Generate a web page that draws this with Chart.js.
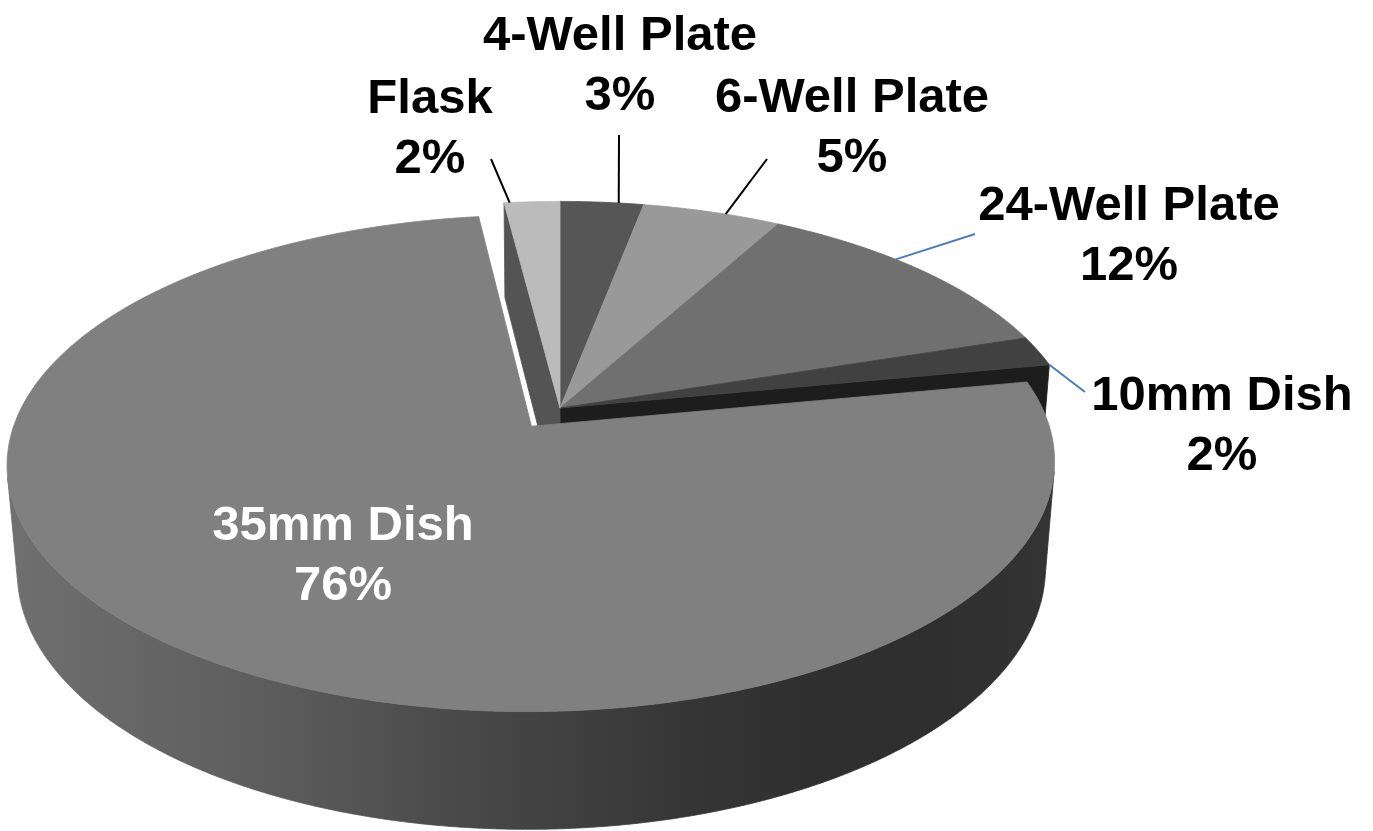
<!DOCTYPE html>
<html>
<head>
<meta charset="utf-8">
<title>Culture vessel usage</title>
<script src="https://cdn.jsdelivr.net/npm/chart.js@4/dist/chart.umd.min.js"></script>
<style>
  html, body { margin: 0; padding: 0; background: #ffffff; }
  #wrap { position: relative; width: 1373px; height: 831px; }
</style>
</head>
<body>
<div id="wrap"><canvas id="pie"></canvas></div>
<script>
// ---- data ----
const categories  = ['4-Well Plate', '6-Well Plate', '24-Well Plate', '10mm Dish', '35mm Dish', 'Flask'];
const shares      = [3, 5, 12, 2, 76, 2];
const sliceColors = ['#565656', '#999999', '#707070', '#414141', '#808080', '#bbbbbb'];
const explodePx   = [0, 0, 0, 0, 48, 0];

// ---- label placement (text centre / first baseline, leader end, anchor along slice rim) ----
const labelPlacement = [
  { x: 620,  y: 50,  color: '#000000', lineTo: [619, 135],  anchor: 0.7,  lineColor: '#000000' },
  { x: 852,  y: 112, color: '#000000', lineTo: [767, 159],  anchor: 0.6,  lineColor: '#000000' },
  { x: 1129, y: 220, color: '#000000', lineTo: [975, 234],  anchor: 0.405, lineColor: '#4a7ebb' },
  { x: 1222, y: 410, color: '#000000', lineTo: [1085, 392], anchor: 1.0,  lineColor: '#4a7ebb' },
  { x: 343,  y: 540, color: '#ffffff', lineTo: null },
  { x: 430,  y: 113, color: '#000000', lineTo: [491, 159],  anchor: 0.1,  lineColor: '#000000' }
];
const labelFont = 'bold 49px "Liberation Sans", Arial, sans-serif';
const labelLineGap = 60;

// ---- 3-D view (units of pie radius) ----
const view = { distance: 5.98, tiltDeg: 27.6, thickness: 0.235, faceShade: 0.45 };
// side-wall shading by wall direction (degrees, canvas convention: 90 = front)
const wallShade = [[0, 0.41], [17, 0.40], [45, 0.37], [62, 0.37], [75, 0.42], [94, 0.555],
                   [116, 0.73], [132, 0.80], [160, 0.87]];

function hexToRgb(h) {
  const v = parseInt(h.slice(1), 16);
  return [(v >> 16) & 255, (v >> 8) & 255, v & 255];
}
function shadeColor(h, f) {
  const [r, g, b] = hexToRgb(h);
  const c = x => Math.max(0, Math.min(255, Math.round(x * f)));
  return 'rgb(' + c(r) + ',' + c(g) + ',' + c(b) + ')';
}

function makeView(chart) {
  const arcs = chart.getDatasetMeta(0).data;
  const a0 = arcs[0];
  const cx = a0.x, cy = a0.y, R = a0.outerRadius;
  const t = view.tiltDeg * Math.PI / 180, sA = Math.sin(t), cA = Math.cos(t);
  const D = view.distance, T = view.thickness;
  const proj = (X, Y, Z) => {
    const yc = Y * cA - Z * sA;
    const dep = D - (Y * sA + Z * cA);
    const f = D / dep;
    return [cx + R * X * f, cy - R * yc * f];
  };
  const slices = arcs.map((arc, i) => {
    const s = arc.startAngle, e = arc.endAngle, mid = (s + e) / 2;
    const off = (arc.options.offset || 0) / R;
    return { i, s, e, ex: off * Math.cos(mid), ez: off * Math.sin(mid), exploded: off > 0,
             color: arc.options.backgroundColor };
  });
  const rim = (sl, th, Y) => proj(sl.ex + Math.cos(th), Y, sl.ez + Math.sin(th));
  return { proj, slices, rim, D, sA, cA, T };
}

const pie3d = {
  id: 'pie3d',
  beforeDatasetsDraw(chart) {
    const ctx = chart.ctx;
    const V = makeView(chart);
    const { proj, slices, rim, D, sA, cA, T } = V;
    const n = slices.length;
    ctx.save();
    ctx.lineJoin = 'round';

    // radial cut faces exposed by an exploded slice
    slices.forEach((sl, i) => {
      const prev = slices[(i - 1 + n) % n], next = slices[(i + 1) % n];
      const faces = [];
      if (sl.exploded || prev.exploded) faces.push({ th: sl.s, nx: Math.sin(sl.s), nz: -Math.cos(sl.s) });
      if (sl.exploded || next.exploded) faces.push({ th: sl.e, nx: -Math.sin(sl.e), nz: Math.cos(sl.e) });
      faces.forEach(fc => {
        const dot = fc.nx * (0 - sl.ex) + fc.nz * (D * cA - sl.ez);
        if (dot <= 0) return;
        const p1 = proj(sl.ex, 0, sl.ez), p2 = rim(sl, fc.th, 0);
        const p3 = rim(sl, fc.th, -T), p4 = proj(sl.ex, -T, sl.ez);
        ctx.beginPath();
        ctx.moveTo(p1[0], p1[1]); ctx.lineTo(p2[0], p2[1]);
        ctx.lineTo(p3[0], p3[1]); ctx.lineTo(p4[0], p4[1]);
        ctx.closePath();
        const col = shadeColor(sl.color, view.faceShade);
        ctx.fillStyle = col; ctx.strokeStyle = col; ctx.lineWidth = 0.8;
        ctx.fill(); ctx.stroke();
      });
    });

    // outer walls facing the viewer
    slices.forEach(sl => {
      const step = Math.PI / 720;
      const steps = Math.max(2, Math.ceil((sl.e - sl.s) / step));
      const runs = []; let run = [];
      for (let k = 0; k <= steps; k++) {
        const th = sl.s + (sl.e - sl.s) * k / steps;
        const vis = -sl.ex * Math.cos(th) - sl.ez * Math.sin(th) - 1 + D * cA * Math.sin(th) > 0;
        if (vis) run.push(th); else if (run.length) { runs.push(run); run = []; }
      }
      if (run.length) runs.push(run);
      if (!runs.length) return;
      // horizontal shading gradient following the wall direction
      const pts = wallShade.map(([deg, f]) => [rim(sl, deg * Math.PI / 180, 0)[0], f]);
      const xs = pts.map(p => p[0]);
      const x0 = Math.min(...xs), x1 = Math.max(...xs);
      const grad = ctx.createLinearGradient(x0, 0, x1, 0);
      pts.slice().sort((a, b) => a[0] - b[0]).forEach(([x, f]) => {
        grad.addColorStop((x - x0) / (x1 - x0), shadeColor(sl.color, f));
      });
      runs.forEach(r => {
        if (r.length < 2) return;
        ctx.beginPath();
        r.forEach((th, k) => { const p = rim(sl, th, 0); k ? ctx.lineTo(p[0], p[1]) : ctx.moveTo(p[0], p[1]); });
        for (let k = r.length - 1; k >= 0; k--) { const p = rim(sl, r[k], -T); ctx.lineTo(p[0], p[1]); }
        ctx.closePath();
        ctx.fillStyle = grad; ctx.strokeStyle = grad; ctx.lineWidth = 0.8;
        ctx.fill(); ctx.stroke();
      });
    });

    // top faces
    slices.forEach(sl => {
      const steps = Math.max(2, Math.ceil((sl.e - sl.s) / (Math.PI / 720)));
      const a = proj(sl.ex, 0, sl.ez);
      ctx.beginPath();
      ctx.moveTo(a[0], a[1]);
      for (let k = 0; k <= steps; k++) {
        const p = rim(sl, sl.s + (sl.e - sl.s) * k / steps, 0);
        ctx.lineTo(p[0], p[1]);
      }
      ctx.closePath();
      ctx.fillStyle = sl.color; ctx.strokeStyle = sl.color; ctx.lineWidth = 0.8;
      ctx.fill(); ctx.stroke();
    });
    ctx.restore();
    return false;
  },
  afterDraw(chart) {
    const ctx = chart.ctx;
    const { slices, rim } = makeView(chart);
    ctx.save();
    ctx.lineCap = 'butt';
    labelPlacement.forEach((lp, i) => {
      if (lp.lineTo) {
        const sl = slices[i];
        const p = rim(sl, sl.s + (sl.e - sl.s) * lp.anchor, 0);
        ctx.beginPath();
        ctx.moveTo(lp.lineTo[0], lp.lineTo[1]);
        ctx.lineTo(p[0], p[1]);
        ctx.strokeStyle = lp.lineColor; ctx.lineWidth = 2;
        ctx.stroke();
      }
      ctx.font = labelFont;
      ctx.fillStyle = lp.color;
      ctx.textAlign = 'center';
      ctx.textBaseline = 'alphabetic';
      ctx.fillText(categories[i], lp.x, lp.y);
      ctx.fillText(shares[i] + '%', lp.x, lp.y + labelLineGap);
    });
    ctx.restore();
  }
};

new Chart(document.getElementById('pie'), {
  type: 'pie',
  data: {
    labels: categories,
    datasets: [{
      data: shares,
      backgroundColor: sliceColors,
      offset: explodePx,
      hoverOffset: 0,
      borderWidth: 0,
      radius: 512
    }]
  },
  options: {
    responsive: true,
    maintainAspectRatio: false,
    animation: false,
    events: [],
    layout: { padding: { left: 0, right: 253, top: 0, bottom: 15 } },
    plugins: { legend: { display: false }, tooltip: { enabled: false } }
  },
  plugins: [pie3d]
});
</script>
</body>
</html>
